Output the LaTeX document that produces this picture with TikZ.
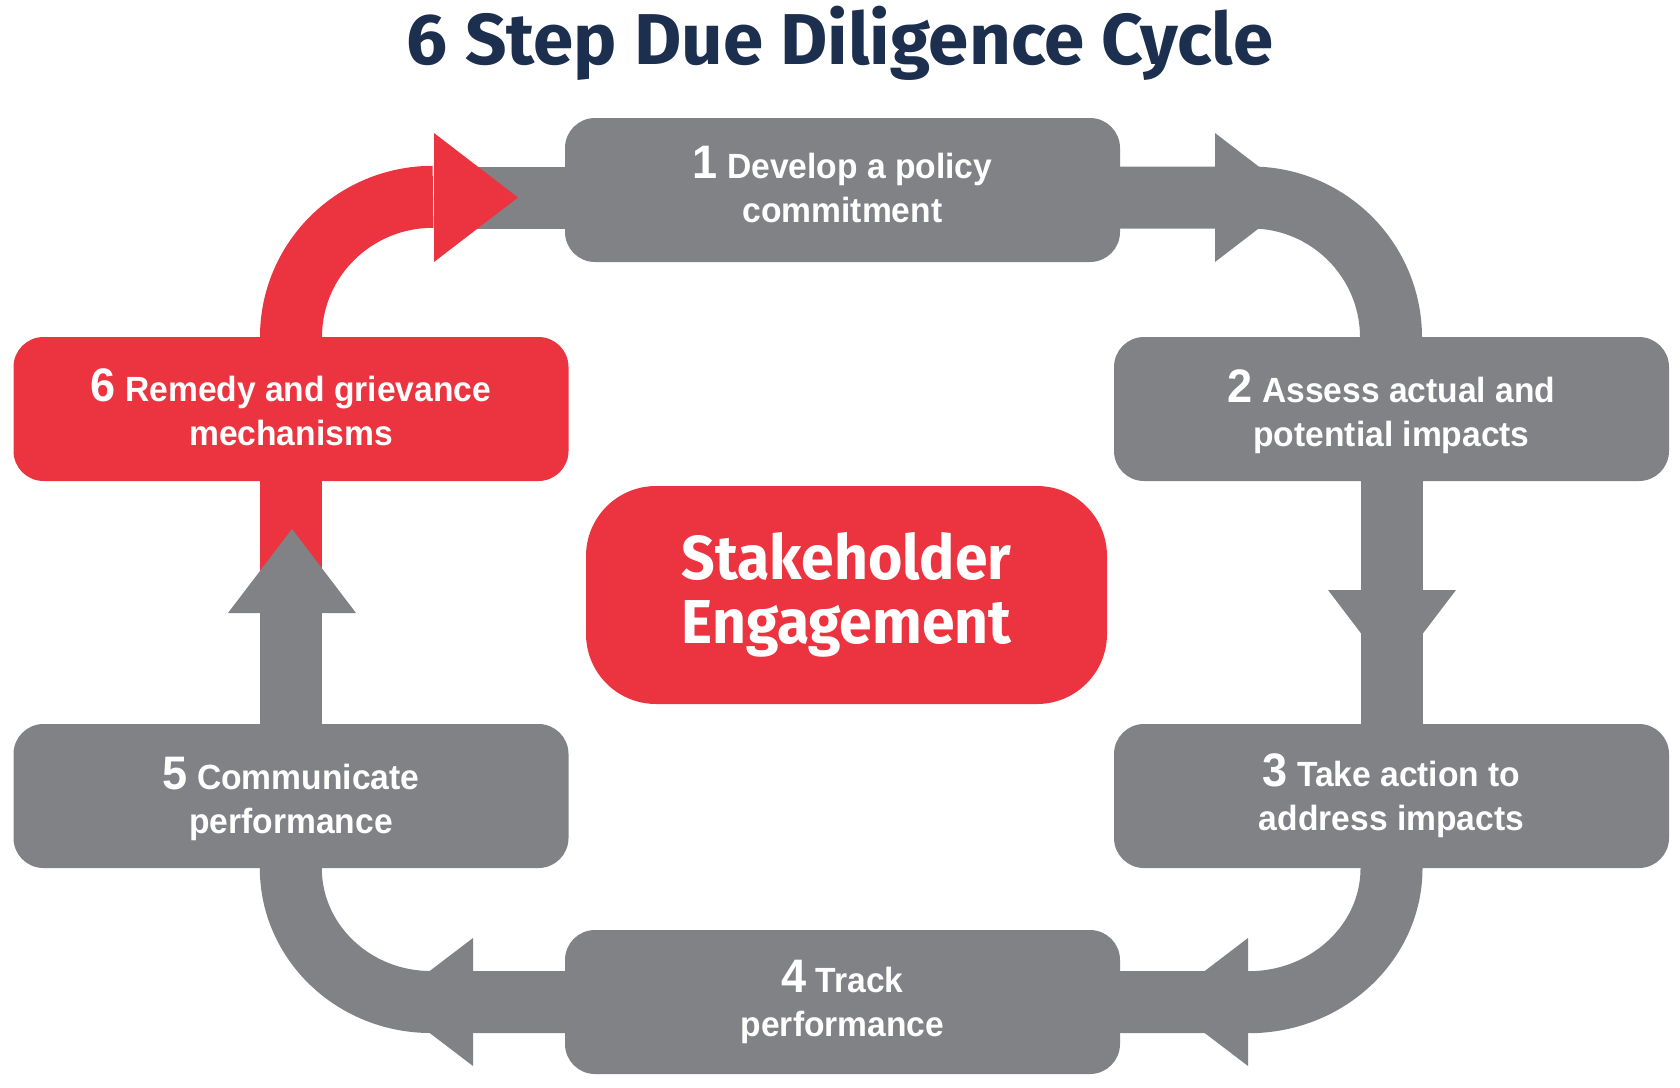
\documentclass[tikz,border=0pt]{standalone}
\usepackage{fontspec}
\usetikzlibrary{backgrounds}
\setmainfont{Liberation Sans}[FakeStretch=0.96]
\newfontfamily\titlefont{Fira Sans}[FakeStretch=1.01]
\newfontfamily\corefont{Fira Sans}[FakeStretch=0.95]

\definecolor{stepgray}{HTML}{818286}
\definecolor{stepred}{HTML}{EC3441}
\definecolor{titleblue}{HTML}{1D2F4F}

\tikzset{
    stepbox/.style={fill=stepgray, rounded corners=30pt, minimum width=555pt,
        minimum height=144pt, inner sep=0pt},
    steptext/.style={text=white, align=center, inner sep=0pt,
        font=\bfseries\fontsize{35}{44}\selectfont},
    conn/.style={draw=stepgray, line width=62pt},
    redconn/.style={draw=stepred, line width=62pt},
}
\newcommand{\stepnum}[1]{{\fontsize{47}{44}\selectfont #1}}

\begin{document}
\begin{tikzpicture}[x=1pt, y=-1pt]
    \useasboundingbox (0,0) rectangle (1680,1087);

    \node[font=\titlefont\bfseries\fontsize{72}{72}\selectfont, text=titleblue,
        anchor=base] (title) at (840,64) {6 Step Due Diligence Cycle};

    \node[stepbox, label={[steptext, yshift=6pt]center:{\stepnum{1} Develop a policy\\commitment}}]
        (s1) at (842.5,190) {};
    \node[stepbox, label={[steptext, yshift=-3pt]center:{\stepnum{2} Assess actual and\\potential impacts}}]
        (s2) at (1391.5,409) {};
    \node[stepbox, label={[steptext]center:{\stepnum{3} Take action to\\address impacts}}]
        (s3) at (1391.5,796) {};
    \node[stepbox, label={[steptext]center:{\stepnum{4} Track\\performance}}]
        (s4) at (842.5,1002) {};
    \node[stepbox, label={[steptext, yshift=-3pt]center:{\stepnum{5} Communicate\\performance}}]
        (s5) at (291,796) {};
    \node[stepbox, fill=stepred, label={[steptext, yshift=2pt]center:{\stepnum{6} Remedy and grievance\\mechanisms}}]
        (s6) at (291,409) {};

    \node[fill=stepred, rounded corners=70pt, minimum width=521pt, minimum height=218pt,
        text=white, align=center, font=\corefont\bfseries\fontsize{62}{64}\selectfont]
        (core) at (846.5,595) {Stakeholder\\Engagement};

    \begin{scope}[on background layer]
    % 6 -> 1
    \draw[conn] (s1.center) ++(0,7.5) -- ++(-378,0);
    \draw[redconn] (s6.center) -- (s6.north) arc[start angle=180, end angle=270, x radius=142, y radius=140];
    \fill[stepred] (434,133) -- (518,197.5) -- (434,262) -- cycle;

    % 1 -> 2
    \draw[conn] (s1.center) ++(0,7.5) -- ++(408.5,0) arc[start angle=270, end angle=360, x radius=140, y radius=140] -- (s2.center);
    \fill[stepgray] (1215,133) -- (1299,197.5) -- (1215,262) -- cycle;

    % 2 -> 3
    \draw[conn] (s2.center) -- (s3.center);
    \fill[stepgray] (1328,590) -- (1392,674) -- (1456,590) -- cycle;

    % 3 -> 4
    \draw[conn] (s3.center) -- (s3.south) arc[start angle=0, end angle=90, x radius=143, y radius=134] -- (s4.center);
    \fill[stepgray] (1248,938) -- (1164,1002) -- (1248,1066) -- cycle;

    % 4 -> 5
    \draw[conn] (s4.center) -- (s4.west) -- ++(-134,0) arc[start angle=90, end angle=180, x radius=140, y radius=134] -- (s5.center);
    \fill[stepgray] (473,938) -- (389,1002) -- (473,1066) -- cycle;

    % 5 -> 6
    \draw[conn] (s5.center) -- (s6.center);
    \draw[redconn] (s6.center) -- ++(0,170);
    \fill[stepgray] (228,613) -- (292,529) -- (356,613) -- cycle;
    \end{scope}
\end{tikzpicture}
\end{document}
